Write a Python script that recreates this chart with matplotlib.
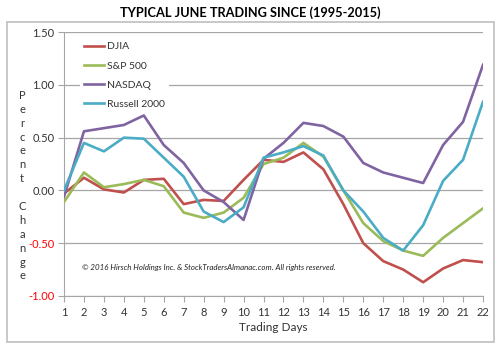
import matplotlib.pyplot as plt
from matplotlib.patches import Rectangle

plt.rcParams["font.family"] = ["Lato", "DejaVu Sans"]
plt.rcParams["axes.unicode_minus"] = False

days = list(range(1, 23))
djia = [-0.03, 0.12, 0.01, -0.02, 0.10, 0.11, -0.13, -0.09, -0.10, 0.10, 0.29,
        0.27, 0.36, 0.20, -0.13, -0.50, -0.67, -0.75, -0.87, -0.74, -0.66, -0.68]
sp500 = [-0.11, 0.17, 0.03, 0.06, 0.10, 0.04, -0.21, -0.26, -0.21, -0.07, 0.25,
         0.31, 0.45, 0.32, 0.00, -0.31, -0.48, -0.57, -0.62, -0.45, -0.31, -0.17]
nasdaq = [-0.06, 0.56, 0.59, 0.62, 0.71, 0.43, 0.26, 0.00, -0.11, -0.28, 0.30,
          0.45, 0.64, 0.61, 0.51, 0.26, 0.17, 0.12, 0.07, 0.43, 0.65, 1.19]
russell = [0.00, 0.45, 0.37, 0.50, 0.49, 0.31, 0.13, -0.20, -0.30, -0.16, 0.31,
           0.36, 0.42, 0.33, 0.00, -0.20, -0.45, -0.57, -0.33, 0.09, 0.29, 0.84]
series = [("DJIA", djia, "#c0504d"), ("S&P 500", sp500, "#9bbb59"),
          ("NASDAQ", nasdaq, "#8064a2"), ("Russell 2000", russell, "#4bacc6")]
yticks = [-1.0, -0.5, 0.0, 0.5, 1.0, 1.5]

fig = plt.figure(figsize=(5, 3.49), dpi=100)
fig.patches.append(Rectangle((0.014, 0.02), 0.974, 0.917, transform=fig.transFigure,
                             fill=False, edgecolor="#bfbfbf", linewidth=1.2))
fig.text(0.5, 0.965, "TYPICAL JUNE TRADING SINCE (1995-2015)", ha="center", va="center",
         fontsize=9.2, fontweight="bold")

ax = fig.add_axes([0.128, 0.152, 0.838, 0.756])
for name, vals, col in series:
    ax.plot(days, vals, color=col, linewidth=1.9, label=name, zorder=3)

ax.set_xlim(1, 22)
ax.set_ylim(-1.0, 1.5)
ax.set_xticks(days)
ax.set_yticks(yticks)
ax.set_yticklabels(["%.2f" % v for v in yticks])
ax.grid(axis="y", color="#a6a6a6", linewidth=0.9)
ax.set_axisbelow(True)
for s in ["top", "right"]:
    ax.spines[s].set_visible(False)
for s in ["left", "bottom"]:
    ax.spines[s].set_color("#a6a6a6")
ax.tick_params(axis="both", color="#a6a6a6", labelsize=8, length=4, labelcolor="#333333")
ax.tick_params(axis="x", pad=4)
ax.tick_params(axis="y", pad=3)
for lab, v in zip(ax.get_yticklabels(), yticks):
    lab.set_color("#ff0000" if v < 0 else "#333333")

ax.set_xlabel("Trading Days", fontsize=8.5, color="#333333", labelpad=3)
fig.text(0.044, 0.468, "\n".join("Percent") + "\n\n" + "\n".join("Change"),
         ha="center", va="center", fontsize=8, color="#333333", linespacing=1.32)

ax.text(1.9, -0.73, "\u00a9 2016 Hirsch Holdings Inc. & StockTradersAlmanac.com. All rights reserved.",
        fontsize=5.7, style="italic", color="#222222", va="center")

leg = ax.legend(loc="upper left", bbox_to_anchor=(0.038, 0.978), fontsize=7.5,
                frameon=True, handlelength=1.9, handletextpad=0.3, labelspacing=0.95,
                borderpad=0.4, borderaxespad=0)
leg.get_frame().set_edgecolor("none")
leg.get_frame().set_facecolor("white")
leg.get_frame().set_alpha(1)
for t in leg.get_texts():
    t.set_color("#333333")

fig.savefig("out.png", dpi=100)
